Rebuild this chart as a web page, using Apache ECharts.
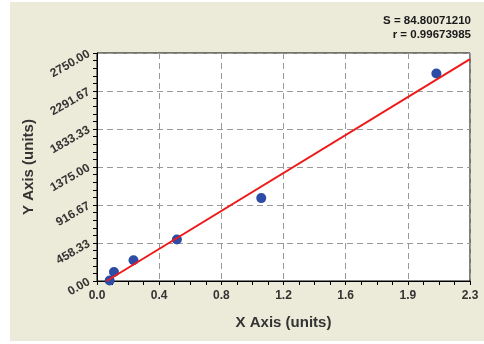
<!DOCTYPE html>
<html>
<head>
<meta charset="utf-8">
<script src="https://cdn.jsdelivr.net/npm/echarts@6/dist/echarts.min.js"></script>
<style>
html,body{margin:0;padding:0;background:#ffffff;}
#c{width:484px;height:344px;}
</style>
</head>
<body>
<div id="c"></div>
<script>
// Data
const pointX = [0.079, 0.106, 0.228, 0.499, 1.026, 2.12];
const pointY = [5, 109, 250, 500, 1000, 2503];
const fitX = [0.06, 2.33];
const fitY = [0, 2677];
const xMax = 2.33;
const yMax = 2750;
const statLines = ['S = 84.80071210', 'r = 0.99673985'];
const xTitle = 'X Axis (units)';
const yTitle = 'Y Axis (units)';

const chart = echarts.init(document.getElementById('c'), null, {renderer: 'canvas'});
const font = 'Liberation Sans, Arial, sans-serif';
const option = {
  backgroundColor: '#ECEAD8',
  animation: false,
  grid: {left: 97, right: 14, top: 53, bottom: 63, show: true, backgroundColor: '#ffffff', borderColor: '#000', borderWidth: 1},
  graphic: [
    {type: 'rect', left: 0, top: 0, shape: {width: 10, height: 344}, style: {fill: '#ffffff'}, z: -1},
    {type: 'rect', left: 0, top: 0, shape: {width: 484, height: 2}, style: {fill: '#ffffff'}, z: -1},
    {type: 'rect', left: 0, top: 341, shape: {width: 484, height: 3}, style: {fill: '#ffffff'}, z: -1},
    {type: 'text', right: 13, top: 15, style: {text: statLines[0], font: 'bold 11.5px ' + font, fill: '#1a1a1a', textAlign: 'right'}},
    {type: 'text', right: 13, top: 29, style: {text: statLines[1], font: 'bold 11.5px ' + font, fill: '#1a1a1a', textAlign: 'right'}}
  ],
  xAxis: {
    type: 'value', min: 0, max: xMax, interval: xMax / 6,
    name: xTitle, nameLocation: 'middle', nameGap: 34,
    nameTextStyle: {fontFamily: font, fontSize: 15, fontWeight: 'bold', color: '#333'},
    axisLine: {show: true, lineStyle: {color: '#000', width: 1}},
    axisTick: {show: true, length: 4, lineStyle: {color: '#000'}},
    minorTick: {show: true, splitNumber: 4, length: 4, lineStyle: {color: '#000'}},
    axisLabel: {fontFamily: font, fontSize: 12, fontWeight: 'bold', color: '#333', margin: 9,
      formatter: v => v.toFixed(1), showMinLabel: true, showMaxLabel: true},
    splitLine: {show: true, lineStyle: {color: '#999', type: [6, 4], width: 1}}
  },
  yAxis: {
    type: 'value', min: 0, max: yMax, interval: yMax / 6,
    name: yTitle, nameLocation: 'middle', nameGap: 61,
    nameTextStyle: {fontFamily: font, fontSize: 15, fontWeight: 'bold', color: '#333'},
    axisLine: {show: true, lineStyle: {color: '#000', width: 1}},
    axisTick: {show: true, length: 4, lineStyle: {color: '#000'}},
    minorTick: {show: true, splitNumber: 5, length: 4, lineStyle: {color: '#000'}},
    axisLabel: {fontFamily: font, fontSize: 12, fontWeight: 'bold', color: '#333', margin: 8, rotate: 30,
      formatter: v => v.toFixed(2), showMinLabel: true, showMaxLabel: true},
    splitLine: {show: true, lineStyle: {color: '#999', type: [6, 4], width: 1}}
  },
  series: [
    {
      type: 'scatter', symbol: 'circle', symbolSize: 10,
      itemStyle: {color: '#2C4CA6', opacity: 1},
      data: pointX.map((x, i) => [x, pointY[i]]), z: 3
    },
    {
      type: 'line', showSymbol: false, symbol: 'none',
      lineStyle: {color: '#EE1A1A', width: 2},
      data: fitX.map((x, i) => [x, fitY[i]]), z: 4
    }
  ]
};
chart.setOption(option);
</script>
</body>
</html>
